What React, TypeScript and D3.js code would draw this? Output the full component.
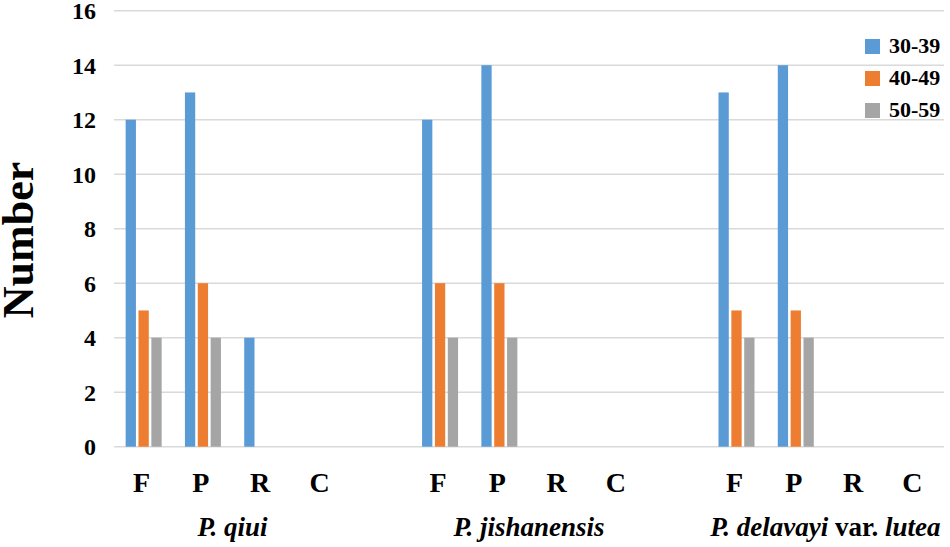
import React from 'react';
import * as d3 from 'd3';

const species = ['P. qiui', 'P. jishanensis', 'P. delavayi var. lutea'];
const parts = ['F', 'P', 'R', 'C'];
const series = ['30-39', '40-49', '50-59'];
const colors = ['#5B9BD5', '#ED7D31', '#A5A5A5'];
// values[species][part][series]
const qiui = [[12, 5, 4], [13, 6, 4], [4, 0, 0], [0, 0, 0]];
const jishanensis = [[12, 6, 4], [14, 6, 4], [0, 0, 0], [0, 0, 0]];
const delavayi = [[13, 5, 4], [14, 5, 4], [0, 0, 0], [0, 0, 0]];
const values = [qiui, jishanensis, delavayi];
const yTicks = [0, 2, 4, 6, 8, 10, 12, 14, 16];

const W = 950;
const H = 547;
const FONT = '"Liberation Serif", "Times New Roman", serif';

export default function App() {
  const ref = React.useRef<SVGSVGElement | null>(null);

  React.useEffect(() => {
    const svg = d3.select(ref.current);
    svg.selectAll('*').remove();

    // slots: 4 parts per species, one empty slot between species
    const slots: string[] = [];
    species.forEach((s, i) => {
      if (i > 0) slots.push(`gap${i}`);
      parts.forEach(p => slots.push(`${i}-${p}`));
    });

    const x0 = d3.scaleBand<string>().domain(slots).range([114, 944]);
    const x1 = d3.scaleBand<string>().domain(series).range([-18, 18]).paddingInner(0.2);
    const y = d3.scaleLinear().domain([0, 16]).range([446.7, 10.7]);

    // grid
    svg.append('g')
      .selectAll('line')
      .data(yTicks)
      .join('line')
      .attr('x1', 114)
      .attr('x2', 944)
      .attr('y1', d => y(d))
      .attr('y2', d => y(d))
      .attr('stroke', '#D9D9D9')
      .attr('stroke-width', 1.5);

    // y tick labels
    svg.append('g')
      .selectAll('text')
      .data(yTicks)
      .join('text')
      .attr('x', 96)
      .attr('y', d => y(d))
      .attr('dy', '0.36em')
      .attr('text-anchor', 'end')
      .attr('font-family', FONT)
      .attr('font-weight', 'bold')
      .attr('font-size', 24)
      .text(d => d);

    // bars
    values.forEach((grp, si) => {
      grp.forEach((vals, pi) => {
        const cx = (x0(`${si}-${parts[pi]}`) as number) + x0.bandwidth() / 2;
        vals.forEach((v, k) => {
          if (!v) return;
          svg.append('rect')
            .attr('x', cx + (x1(series[k]) as number))
            .attr('y', y(v))
            .attr('width', x1.bandwidth())
            .attr('height', y(0) - y(v))
            .attr('fill', colors[k]);
        });
        svg.append('text')
          .attr('x', cx - 2)
          .attr('y', 492)
          .attr('text-anchor', 'middle')
          .attr('font-family', FONT)
          .attr('font-weight', 'bold')
          .attr('font-size', 28)
          .text(parts[pi]);
      });
      // species label centered on group
      const gx = ((x0(`${si}-P`) as number) + (x0(`${si}-R`) as number) + x0.bandwidth()) / 2;
      const t = svg.append('text')
        .attr('x', gx)
        .attr('y', 536)
        .attr('text-anchor', 'middle')
        .attr('font-family', FONT)
        .attr('font-weight', 'bold')
        .attr('font-size', 27);
      const name = species[si];
      if (name.includes(' var. ')) {
        const [a, b] = name.split(' var. ');
        t.append('tspan').attr('font-style', 'italic').text(a);
        t.append('tspan').text(' var. ');
        t.append('tspan').attr('font-style', 'italic').text(b);
      } else {
        t.attr('font-style', 'italic').text(name);
      }
    });

    // y axis title
    svg.append('text')
      .attr('transform', 'translate(33,240) rotate(-90)')
      .attr('text-anchor', 'middle')
      .attr('font-family', FONT)
      .attr('font-weight', 'bold')
      .attr('font-size', 44)
      .text('Number');

    // legend
    const legend = svg.append('g').attr('transform', 'translate(865,39)');
    series.forEach((s, i) => {
      const lg = legend.append('g').attr('transform', `translate(0,${i * 32})`);
      lg.append('rect').attr('width', 15).attr('height', 15).attr('fill', colors[i]);
      lg.append('text')
        .attr('x', 24)
        .attr('y', 14)
        .attr('font-family', FONT)
        .attr('font-weight', 'bold')
        .attr('font-size', 22)
        .text(s);
    });
  }, []);

  return (
    <svg
      ref={ref}
      width={W}
      height={H}
      style={{ position: 'absolute', left: 0, top: 0, background: '#fff' }}
    />
  );
}
